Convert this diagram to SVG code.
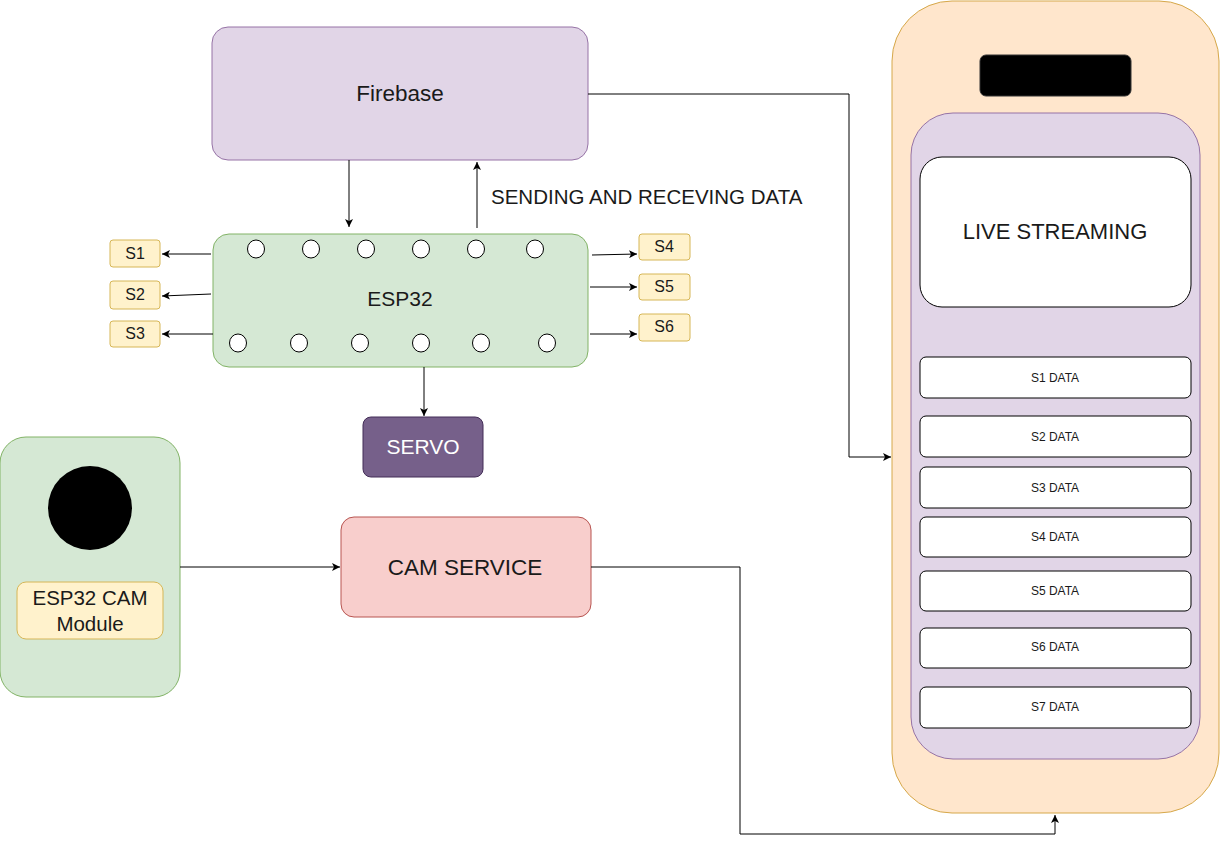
<svg xmlns="http://www.w3.org/2000/svg" width="1231" height="844" viewBox="0 0 1231 844">
<defs>
<marker id="arr" markerWidth="10" markerHeight="8" refX="8" refY="4" orient="auto" markerUnits="userSpaceOnUse">
<path d="M0,0 L8,4 L0,8 L2,4 z" fill="#000"/>
</marker>
</defs>
<style>
text{font-family:"Liberation Sans",Arial,sans-serif;fill:#1a1a1a}
.purple{fill:#e1d5e7;stroke:#9673a6;stroke-width:1}
.green{fill:#d5e8d4;stroke:#82b366;stroke-width:1}
.yellow{fill:#fff2cc;stroke:#d6b656;stroke-width:1}
.white{fill:#fff;stroke:#000;stroke-width:1}
.pin{fill:#fff;stroke:#000;stroke-width:1}
.conn{fill:none;stroke:#000;stroke-width:1;marker-end:url(#arr)}
.s{font-size:16px}
.d{font-size:12px}
</style>
<rect width="1231" height="844" fill="#fff"/>

<g id="phone">
<rect x="892" y="1" width="327" height="812" rx="60" fill="#ffe6cc" stroke="#d6a84a"/>
<rect x="980" y="55" width="151" height="41" rx="6" fill="#000" stroke="#333"/>
<rect x="911" y="113" width="289" height="646" rx="42" class="purple"/>
</g>
<g id="live-streaming">
<rect x="920" y="157" width="271" height="150" rx="22" class="white"/>
<text x="1055" y="239" font-size="22" text-anchor="middle">LIVE STREAMING</text>
</g>
<g id="s1-data"><rect x="920" y="357" width="271" height="41" rx="6" class="white"/><text x="1055" y="382" class="d" text-anchor="middle">S1 DATA</text></g>
<g id="s2-data"><rect x="920" y="416" width="271" height="41" rx="6" class="white"/><text x="1055" y="441" class="d" text-anchor="middle">S2 DATA</text></g>
<g id="s3-data"><rect x="920" y="467" width="271" height="41" rx="6" class="white"/><text x="1055" y="492" class="d" text-anchor="middle">S3 DATA</text></g>
<g id="s4-data"><rect x="920" y="517" width="271" height="40" rx="6" class="white"/><text x="1055" y="541" class="d" text-anchor="middle">S4 DATA</text></g>
<g id="s5-data"><rect x="920" y="571" width="271" height="40" rx="6" class="white"/><text x="1055" y="595" class="d" text-anchor="middle">S5 DATA</text></g>
<g id="s6-data"><rect x="920" y="628" width="271" height="40" rx="6" class="white"/><text x="1055" y="651" class="d" text-anchor="middle">S6 DATA</text></g>
<g id="s7-data"><rect x="920" y="687" width="271" height="41" rx="6" class="white"/><text x="1055" y="711" class="d" text-anchor="middle">S7 DATA</text></g>

<g id="firebase">
<rect x="212" y="27" width="376" height="133" rx="16" class="purple"/>
<text x="400" y="101" font-size="22.5" text-anchor="middle">Firebase</text>
</g>

<g id="esp32">
<rect x="213" y="234" width="375" height="133" rx="16" class="green"/>
<text x="400" y="306" font-size="21" text-anchor="middle">ESP32</text>
<ellipse cx="256" cy="249" rx="8.5" ry="9" class="pin"/>
<ellipse cx="311" cy="249" rx="8.5" ry="9" class="pin"/>
<ellipse cx="366" cy="249" rx="8.5" ry="9" class="pin"/>
<ellipse cx="421" cy="249" rx="8.5" ry="9" class="pin"/>
<ellipse cx="476" cy="249" rx="8.5" ry="9" class="pin"/>
<ellipse cx="535" cy="249" rx="8.5" ry="9" class="pin"/>
<ellipse cx="238" cy="343" rx="8.5" ry="9" class="pin"/>
<ellipse cx="299" cy="343" rx="8.5" ry="9" class="pin"/>
<ellipse cx="360" cy="343" rx="8.5" ry="9" class="pin"/>
<ellipse cx="421" cy="343" rx="8.5" ry="9" class="pin"/>
<ellipse cx="481" cy="343" rx="8.5" ry="9" class="pin"/>
<ellipse cx="547" cy="343" rx="8.5" ry="9" class="pin"/>
</g>

<g id="s1"><rect x="110" y="240" width="50" height="27" rx="3" class="yellow"/><text x="135" y="259" class="s" text-anchor="middle">S1</text></g>
<g id="s2"><rect x="110" y="281" width="50" height="28" rx="3" class="yellow"/><text x="135" y="300" class="s" text-anchor="middle">S2</text></g>
<g id="s3"><rect x="110" y="321" width="50" height="26" rx="3" class="yellow"/><text x="135" y="339" class="s" text-anchor="middle">S3</text></g>
<g id="s4"><rect x="639" y="234" width="51" height="26" rx="3" class="yellow"/><text x="664" y="252" class="s" text-anchor="middle">S4</text></g>
<g id="s5"><rect x="639" y="274" width="51" height="26" rx="3" class="yellow"/><text x="664" y="292" class="s" text-anchor="middle">S5</text></g>
<g id="s6"><rect x="639" y="314" width="51" height="27" rx="3" class="yellow"/><text x="664" y="332" class="s" text-anchor="middle">S6</text></g>

<g id="servo">
<rect x="363" y="417" width="120" height="60" rx="8" fill="#76608a" stroke="#432d57"/>
<text x="423" y="454" font-size="21" text-anchor="middle" style="fill:#fff">SERVO</text>
</g>

<g id="esp32-cam">
<rect x="0" y="437" width="180" height="260" rx="26" class="green"/>
<ellipse cx="90" cy="508" rx="42" ry="42" fill="#000"/>
<rect x="17" y="582" width="146" height="57" rx="9" class="yellow"/>
<text x="90" y="605" font-size="20.5" text-anchor="middle">ESP32 CAM</text>
<text x="90" y="631" font-size="20.5" text-anchor="middle">Module</text>
</g>

<g id="cam-service">
<rect x="341" y="517" width="250" height="100" rx="13" fill="#f8cecc" stroke="#b85450"/>
<text x="465" y="575" font-size="22.5" text-anchor="middle">CAM SERVICE</text>
</g>

<g id="connectors">
<path class="conn" d="M349,160 L349,227"/>
<path class="conn" d="M477,228 L477,162"/>
<path class="conn" d="M211,254 L162,254"/>
<path class="conn" d="M211,294 L162,296"/>
<path class="conn" d="M213,334 L162,334"/>
<path class="conn" d="M592,255 L637,254"/>
<path class="conn" d="M590,287 L637,287"/>
<path class="conn" d="M590,334 L637,334"/>
<path class="conn" d="M424,367 L424,416"/>
<path class="conn" d="M180,567 L340,567"/>
<path class="conn" d="M588,94 L849,94 L849,457 L891,457"/>
<path class="conn" d="M591,567 L740,567 L740,834 L1055,834 L1055,815"/>
<text x="491" y="204" font-size="20.5">SENDING AND RECEVING DATA</text>
</g>
</svg>
